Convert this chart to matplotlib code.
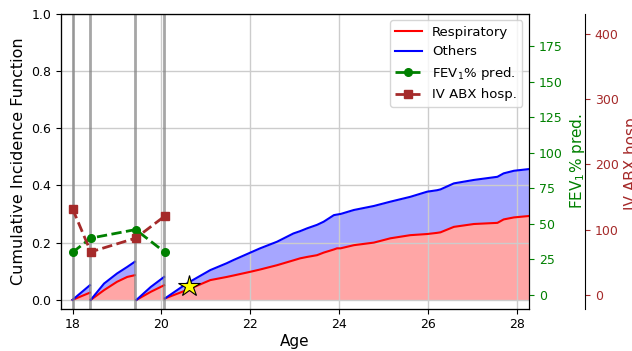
import numpy as np
import matplotlib
matplotlib.use("Agg")
import matplotlib.pyplot as plt

# cumulative incidence, restarted at each follow-up visit
seg_ages = [
    [18.0, 18.39],
    [18.41, 18.71, 19.0, 19.23, 19.4],
    [19.44, 19.76, 20.06],
    [20.08, 20.57, 21.1, 21.47, 21.62, 22.0, 22.22, 22.6, 22.97, 23.12, 23.28,
     23.5, 23.65, 23.88, 23.95, 24.03, 24.33, 24.78, 25.15, 25.6, 25.98, 26.2,
     26.28, 26.58, 27.03, 27.56, 27.7, 27.93, 28.27],
]
seg_resp = [
    [0.0, 0.025],
    [0.0, 0.034, 0.063, 0.08, 0.086],
    [0.0, 0.028, 0.051],
    [0.005, 0.034, 0.069, 0.08, 0.085, 0.098, 0.106, 0.121, 0.138, 0.145, 0.15,
     0.156, 0.165, 0.176, 0.18, 0.18, 0.191, 0.2, 0.215, 0.226, 0.23, 0.234,
     0.236, 0.255, 0.265, 0.269, 0.281, 0.288, 0.293],
]
seg_total = [
    [0.0, 0.051],
    [0.0, 0.057, 0.092, 0.115, 0.133],
    [0.0, 0.045, 0.08],
    [0.005, 0.057, 0.104, 0.128, 0.139, 0.165, 0.18, 0.203, 0.232, 0.24, 0.25,
     0.262, 0.273, 0.296, 0.298, 0.3, 0.314, 0.328, 0.343, 0.36, 0.378, 0.383,
     0.386, 0.407, 0.419, 0.43, 0.442, 0.451, 0.457],
]

visit_ages = [18.0, 18.39, 19.41, 20.06]
fev_ages = [18.0, 18.41, 19.42, 20.08]
fev1 = [30, 40, 46, 30]
ivabx = [132, 66, 87, 121]

star_age = 20.61
star_cif = 0.048

fig = plt.figure(figsize=(6.32, 3.51), dpi=100)
ax = fig.add_axes([0.0965, 0.1205, 0.7405, 0.8405])
ax.grid(True, color="#cccccc", lw=1.0)

for i, (a, r, t) in enumerate(zip(seg_ages, seg_resp, seg_total)):
    a, r, t = np.array(a), np.array(r), np.array(t)
    ax.fill_between(a, 0, r, color="red", alpha=0.35, lw=0)
    ax.fill_between(a, r, t, color="blue", alpha=0.35, lw=0)
    ax.plot(a, r, color="red", lw=1.5, label="Respiratory" if i == 0 else None)
    ax.plot(a, t, color="blue", lw=1.5, label="Others" if i == 0 else None)

for v in visit_ages:
    ax.axvline(v, color="gray", lw=2, alpha=0.7)

ax.plot(star_age, star_cif, marker="*", ms=16, color="yellow",
        markeredgecolor="black", markeredgewidth=0.8, zorder=5)

ax.set_xlim(17.74, 28.27)
ax.set_ylim(-0.031, 1.0)
ax.set_xlabel("Age", fontsize=11, labelpad=2)
ax.set_ylabel("Cumulative Incidence Function", fontsize=11.5)
ax.tick_params(labelsize=9)

ax2 = ax.twinx()
ax2.plot(fev_ages, fev1, "--o", color="green", lw=2, ms=5.5,
         label="FEV$_1$% pred.")
ax2.set_ylim(-9.6, 197.7)
ax2.set_ylabel("FEV$_1$% pred.", color="green", fontsize=11)
ax2.tick_params(axis="y", colors="green", labelsize=9)

ax3 = ax.twinx()
ax3.spines["right"].set_position(("axes", 1.12))
ax3.plot(fev_ages, ivabx, "--s", color="brown", lw=2, ms=5.5,
         label="IV ABX hosp.")
ax3.set_ylim(-21, 430.6)
ax3.set_ylabel("IV ABX hosp.", color="brown", fontsize=11)
ax3.tick_params(axis="y", colors="brown", labelsize=9)

handles, labels = [], []
for a in (ax, ax2, ax3):
    h, l = a.get_legend_handles_labels()
    handles += h
    labels += l
ax3.legend(handles, labels, loc="upper right", fontsize=9.5)

fig.savefig("out.png", dpi=100)
